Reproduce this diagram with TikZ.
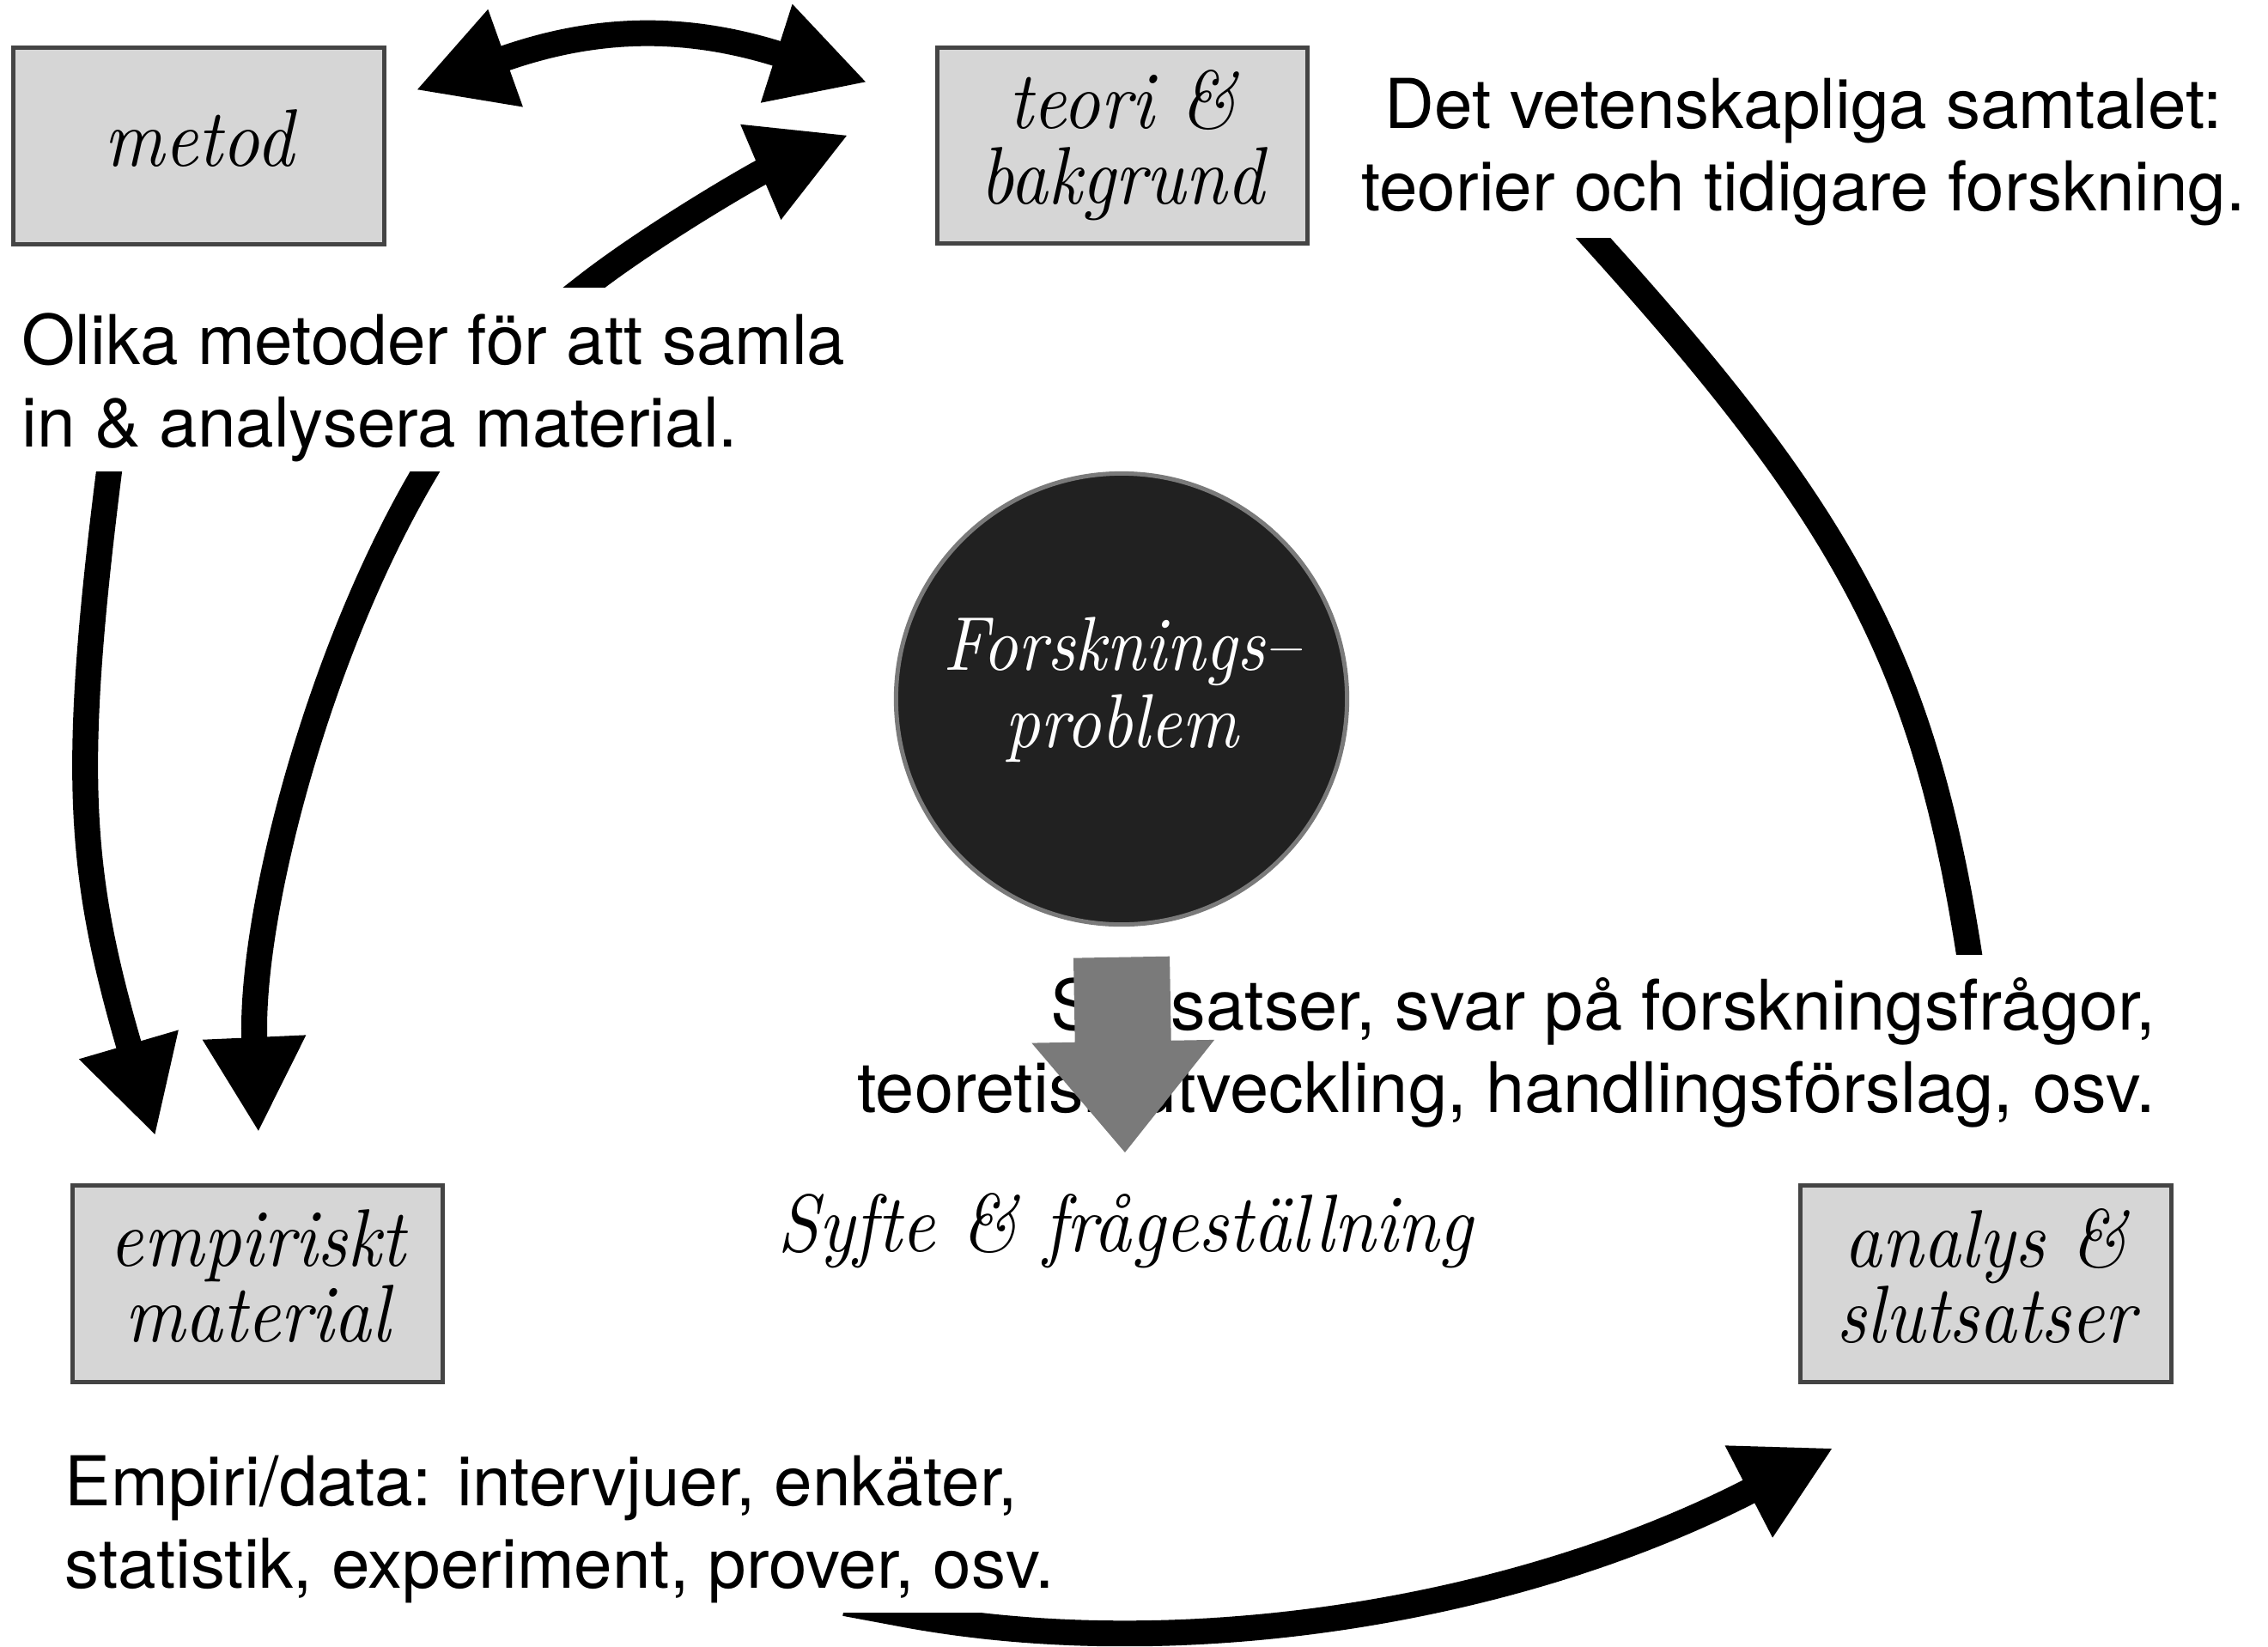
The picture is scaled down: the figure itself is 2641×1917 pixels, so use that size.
\documentclass[tikz,border=0pt]{standalone}
\usepackage{fontspec}
\usetikzlibrary{arrows.meta}
\newfontfamily\sansf{TeX Gyre Heros}
\newfontfamily\garaf{lmroman10-italic.otf}[FakeStretch=0.9]
\definecolor{boxfill}{HTML}{D6D6D6}
\definecolor{boxline}{HTML}{444444}
\definecolor{circfill}{HTML}{212121}
\definecolor{circline}{HTML}{7A7A7A}
\definecolor{arrowgray}{HTML}{7A7A7A}
\begin{document}
\begin{tikzpicture}[x=0.01cm,y=-0.01cm,
  box/.style={draw=boxline, line width=0.05cm, fill=boxfill, minimum width=4.31cm,
    minimum height=2.28cm, inner sep=0pt, align=center,
    font=\garaf\fontsize{27}{25}\selectfont},
  sanstext/.style={inner sep=0pt, font=\sansf\fontsize{22.76}{27.3}\selectfont},
  thickarrow/.style={line width=0.3cm, -{Triangle[length=1.11cm 0 0, width=1.12cm 0 0]}},
  doublearrow/.style={line width=0.3cm, {Triangle[length=1.11cm 0 0, width=1.12cm 0 0]}-{Triangle[length=1.11cm 0 0, width=1.12cm 0 0]}},
  thickline/.style={line width=0.3cm}]
\fill[white] (0,0) rectangle (2641,1917);
\useasboundingbox (0,0) rectangle (2641,1917);

% boxes
\node[box] (metod) at (231.5,170) {metod\vphantom{g}};
\node[box] (teori) at (1307,169.5) {teori \&\\bakgrund};
\node[box] (empiriskt) at (300,1495) {empiriskt\\material\vphantom{g}};
\node[box] (analys) at (2312.5,1495) {analys \&\\slutsatser\vphantom{g}};

% central circle
\node[circle, draw=circline, line width=0.05cm, fill=circfill, minimum size=5.25cm, inner sep=0pt] (circ) at (1306,814) {};
\node[text=white, align=center, inner sep=0pt, font=\garaf\fontsize{25.3}{25.6}\selectfont] (circtext) at (1306,803.5) {Forsknings\textendash\\problem};

% texts (base anchor = baseline of last line)
\node[sanstext, anchor=base west, align=left] (olika) at (25,520) {Olika metoder för att samla\\in \& analysera material.};
\node[sanstext, anchor=base, align=center] (vet) at (2100,245) {Det vetenskapliga samtalet:\\teorier och tidigare forskning.};
\node[sanstext, anchor=base east, align=right, font=\sansf\fontsize{23.1}{27.3}\selectfont] (slut) at (2511,1295) {Slutsatser, svar på forskningsfrågor,\\teoretisk utveckling, handlingsförslag, osv.};
\node[sanstext, anchor=base west, align=left] (empiri) at (75,1849) {Empiri/data: intervjuer, enkäter,\\statistik, experiment, prover, osv.};
\node[anchor=base, inner sep=0pt, font=\garaf\fontsize{27}{25}\selectfont] (syfte) at (1310,1457) {Syfte \& frågeställning};

% connector end points
\coordinate (dA) at (484,105);
\coordinate (dB) at (1010,96);
\coordinate (tA) at (681,334);
\coordinate (tB) at (988,157);
\coordinate (l1A) at (127,549);
\coordinate (l1B) at (181,1323);
\coordinate (l2A) at (495,549);
\coordinate (l2B) at (301,1319);
\coordinate (rA) at (1855,277);
\coordinate (rB) at (2293,1111);
\coordinate (bA) at (1043,1878);
\coordinate (bB) at (2135,1686);

% metod <-> teori
\draw[doublearrow] (dA) .. controls (694,30) and (799,28.5) .. (dB);

% olika -> teori
\begin{scope}
\clip (0,0) rectangle (2641,334);
\draw[thickarrow] (649,359) -- (tA) .. controls (759,273) and (882,202) .. (tB);
\end{scope}

% olika -> empiriskt
\begin{scope}
\clip (0,549) rectangle (2641,1917);
\draw[thickarrow] (131,520) -- (l1A) .. controls (83,899) and (91,1015) .. (l1B);
\draw[thickarrow] (512,520) -- (l2A) .. controls (367.5,764) and (290,1072) .. (l2B);
\end{scope}

% vet -> slut
\begin{scope}
\clip (0,277) rectangle (2641,1111);
\draw[thickline] (1828,247) -- (rA) .. controls (2152,605) and (2240,772) .. (rB) -- (2299,1151);
\end{scope}

% empiri -> analys
\begin{scope}
\clip (0,1878) -- (1250,1878) -- (1250,1500) -- (2641,1500) -- (2641,1917) -- (0,1917) -- cycle;
\draw[thickarrow] (984,1867) -- (bA) .. controls (1357,1939) and (1754,1883) .. (bB);
\end{scope}

% gray arrow circle -> syfte
\draw[arrowgray, line width=1.12cm, -{Triangle[length=1.30cm 0 0, width=2.04cm 0 0]}]
  ([yshift=-0.355cm]circ.south) -- ([yshift=0.455cm]syfte.north);
\end{tikzpicture}
\end{document}
